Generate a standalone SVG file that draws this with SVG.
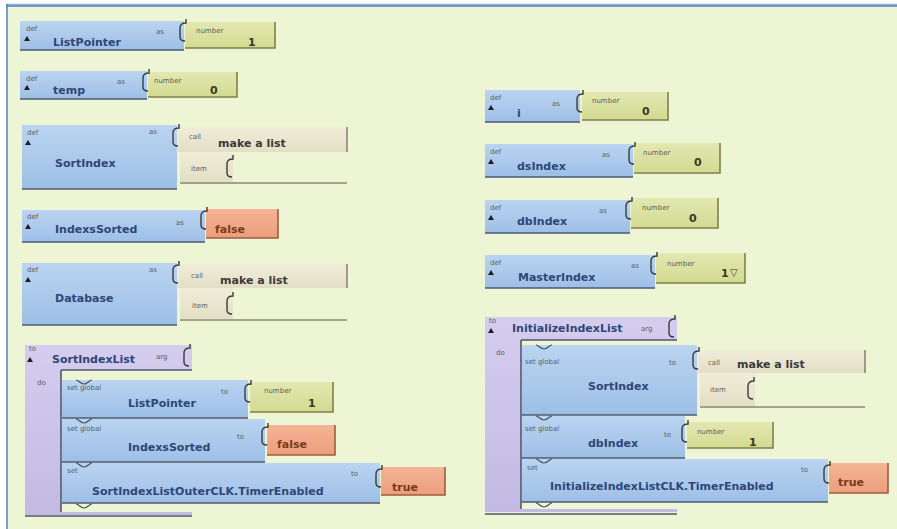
<svg xmlns="http://www.w3.org/2000/svg" width="897" height="529" viewBox="0 0 897 529">
  <defs>
    <linearGradient id="gBlue" x1="0" y1="0" x2="0" y2="1">
      <stop offset="0" stop-color="#BAD4F1"/>
      <stop offset="1" stop-color="#9DBFE6"/>
    </linearGradient>
    <linearGradient id="gNum" x1="0" y1="0" x2="0" y2="1">
      <stop offset="0" stop-color="#E2E8B0"/>
      <stop offset="1" stop-color="#D3DA92"/>
    </linearGradient>
    <linearGradient id="gBool" x1="0" y1="0" x2="0" y2="1">
      <stop offset="0" stop-color="#F4B496"/>
      <stop offset="1" stop-color="#EC9E7B"/>
    </linearGradient>
    <linearGradient id="gList" x1="0" y1="0" x2="0" y2="1">
      <stop offset="0" stop-color="#F0ECD8"/>
      <stop offset="1" stop-color="#E3DFC6"/>
    </linearGradient>
    <linearGradient id="gProc" x1="0" y1="0" x2="0" y2="1">
      <stop offset="0" stop-color="#D4CDEE"/>
      <stop offset="1" stop-color="#C3BAE3"/>
    </linearGradient>
    <!-- value socket bracket -->
    <path id="sock" d="M6,-3 V1 Q0,1 0,6 V15 Q0,19 5,19" fill="none" stroke="#3B3B3B" stroke-width="1.4"/>
    <!-- statement connector notch -->
    <path id="tab" d="M0,0 C3,0 4,4 8,4 C12,4 13,0 16,0" fill="none" stroke="#4A5162" stroke-width="1.2"/>
  </defs>
  <style>
    .blue{fill:url(#gBlue)}
    .num{fill:url(#gNum)}
    .bool{fill:url(#gBool)}
    .list{fill:url(#gList)}
    .proc{fill:url(#gProc)}
    .eBlue{fill:none;stroke:#4D5A70;stroke-width:1.6}
    .eNum{fill:none;stroke:#7F8048;stroke-width:1.6}
    .eBool{fill:none;stroke:#9C5E40;stroke-width:1.6}
    .eList{fill:none;stroke:#8B8672;stroke-width:1.6}
    .eProc{fill:none;stroke:#55566A;stroke-width:1.6}
    .tri{fill:#1E1E1E}
    text{font-family:"DejaVu Sans",Verdana,sans-serif}
    .nm{font-size:11px;font-weight:bold;fill:#2F4676}
    .sm{font-size:7px;fill:#5E5E5E}
    .v{font-size:11px;font-weight:bold;fill:#3A3A22}
    .b{font-size:11px;font-weight:bold;fill:#7A3A1C}
    .ml{font-size:11px;font-weight:bold;fill:#3A3A3A}
  </style>

  <!-- workspace frame -->
  <rect x="0" y="0" width="897" height="529" fill="#FFFFFF"/>
  <rect x="7" y="5" width="890" height="524" fill="#EEF5D5"/>
  <line x1="6" y1="4.5" x2="897" y2="4.5" stroke="#8FB0DA" stroke-width="1.5"/>
  <line x1="6" y1="6" x2="897" y2="6" stroke="#4A7EC0" stroke-width="1.6"/>
  <line x1="7" y1="4" x2="7" y2="529" stroke="#5A8AC6" stroke-width="1.6"/>

  <!-- def ListPointer as number 1 -->
  <g id="def-ListPointer">
    <rect class="blue" x="20" y="21" width="164" height="29"/>
    <path class="eBlue" d="M20,50 H184"/>
    <rect class="num" x="185" y="22" width="90" height="26"/>
    <path class="eNum" d="M275,22 V48 H185"/>
    <use href="#sock" x="180" y="22"/>
    <text class="sm" x="26" y="31">def</text>
    <polygon class="tri" points="24,41 27,36 30,41"/>
    <text class="nm" x="53" y="46">ListPointer</text>
    <text class="sm" x="156" y="34">as</text>
    <text class="sm" x="196" y="33">number</text>
    <text class="v" x="248" y="46">1</text>
  </g>

  <!-- def temp as number 0 -->
  <g id="def-temp">
    <rect class="blue" x="20" y="71" width="127" height="28"/>
    <path class="eBlue" d="M20,99 H147"/>
    <rect class="num" x="148" y="72" width="89" height="25"/>
    <path class="eNum" d="M237,72 V97 H148"/>
    <use href="#sock" x="143" y="72"/>
    <text class="sm" x="26" y="81">def</text>
    <polygon class="tri" points="24,90 27,85 30,90"/>
    <text class="nm" x="53" y="94">temp</text>
    <text class="sm" x="117" y="84">as</text>
    <text class="sm" x="154" y="83">number</text>
    <text class="v" x="210" y="94">0</text>
  </g>

  <!-- def SortIndex as make a list -->
  <g id="def-SortIndex">
    <rect class="blue" x="22" y="125" width="155" height="64"/>
    <path class="eBlue" d="M22,189 H177"/>
    <rect class="list" x="178" y="127" width="169" height="25"/>
    <rect class="list" x="180" y="152" width="53" height="30"/>
    <path class="eList" d="M347,127 V152"/>
    <path class="eList" d="M180,183 H347"/>
    <use href="#sock" x="173" y="127"/>
    <use href="#sock" x="227" y="158"/>
    <text class="sm" x="27" y="135">def</text>
    <polygon class="tri" points="25,145 28,140 31,145"/>
    <text class="nm" x="55" y="167">SortIndex</text>
    <text class="sm" x="149" y="134">as</text>
    <text class="sm" x="189" y="139">call</text>
    <text class="ml" x="218" y="147">make a list</text>
    <text class="sm" x="191" y="171">item</text>
  </g>

  <!-- def IndexsSorted as false -->
  <g id="def-IndexsSorted">
    <rect class="blue" x="22" y="210" width="183" height="32"/>
    <path class="eBlue" d="M22,242 H205"/>
    <rect class="bool" x="206" y="209" width="72" height="29"/>
    <path class="eBool" d="M278,209 V238 H206"/>
    <use href="#sock" x="201" y="210"/>
    <text class="sm" x="27" y="219">def</text>
    <polygon class="tri" points="25,229 28,224 31,229"/>
    <text class="nm" x="55" y="233">IndexsSorted</text>
    <text class="sm" x="176" y="225">as</text>
    <text class="b" x="215" y="233">false</text>
  </g>

  <!-- def Database as make a list -->
  <g id="def-Database">
    <rect class="blue" x="22" y="263" width="155" height="62"/>
    <path class="eBlue" d="M22,325 H177"/>
    <rect class="list" x="178" y="264" width="169" height="24"/>
    <rect class="list" x="180" y="288" width="53" height="31"/>
    <path class="eList" d="M347,264 V288"/>
    <path class="eList" d="M180,320 H347"/>
    <use href="#sock" x="173" y="264"/>
    <use href="#sock" x="227" y="295"/>
    <text class="sm" x="27" y="272">def</text>
    <polygon class="tri" points="25,282 28,277 31,282"/>
    <text class="nm" x="55" y="302">Database</text>
    <text class="sm" x="149" y="272">as</text>
    <text class="sm" x="191" y="278">call</text>
    <text class="ml" x="220" y="284">make a list</text>
    <text class="sm" x="192" y="308">item</text>
  </g>

  <!-- procedure SortIndexList -->
  <g id="proc-SortIndexList">
    <path class="proc" d="M25,345 H192 V370 H61 V512 H192 V515 H25 Z"/>
    <path class="eProc" d="M61,370 H192 M61,370 V512 M25,516 H192"/>
    <use href="#sock" x="184" y="347"/>
    <text class="sm" x="29" y="351">to</text>
    <polygon class="tri" points="27,362 30,357 33,362"/>
    <text class="nm" x="52" y="363">SortIndexList</text>
    <text class="sm" x="156" y="359">arg</text>
    <text class="sm" x="37" y="385">do</text>
  </g>

  <g id="set-ListPointer">
    <rect class="blue" x="62" y="380" width="186" height="38"/>
    <path class="eBlue" d="M62,418 H248"/>
    <rect class="num" x="250" y="382" width="83" height="30"/>
    <path class="eNum" d="M333,382 V412 H250"/>
    <use href="#sock" x="245" y="383"/>
    <use href="#tab" x="76" y="380"/>
    <text class="sm" x="67" y="390">set global</text>
    <text class="nm" x="128" y="407">ListPointer</text>
    <text class="sm" x="221" y="394">to</text>
    <text class="sm" x="264" y="393">number</text>
    <text class="v" x="308" y="407">1</text>
  </g>

  <g id="set-IndexsSorted">
    <rect class="blue" x="62" y="419" width="203" height="43"/>
    <path class="eBlue" d="M62,462 H265"/>
    <rect class="bool" x="267" y="425" width="68" height="30"/>
    <path class="eBool" d="M335,425 V455 H267"/>
    <use href="#sock" x="262" y="426"/>
    <use href="#tab" x="76" y="419"/>
    <text class="sm" x="67" y="431">set global</text>
    <text class="nm" x="128" y="451">IndexsSorted</text>
    <text class="sm" x="237" y="439">to</text>
    <text class="b" x="277" y="448">false</text>
  </g>

  <g id="set-OuterTimer">
    <rect class="blue" x="62" y="463" width="318" height="40"/>
    <path class="eBlue" d="M62,503 H380"/>
    <rect class="bool" x="381" y="467" width="64" height="28"/>
    <path class="eBool" d="M445,467 V495 H381"/>
    <use href="#sock" x="376" y="468"/>
    <use href="#tab" x="76" y="463"/>
    <use href="#tab" x="76" y="504"/>
    <text class="sm" x="67" y="473">set</text>
    <text class="nm" x="92" y="495">SortIndexListOuterCLK.TimerEnabled</text>
    <text class="sm" x="351" y="476">to</text>
    <text class="b" x="392" y="491">true</text>
  </g>

  <!-- def i as number 0 -->
  <g id="def-i">
    <rect class="blue" x="485" y="90" width="95" height="32"/>
    <path class="eBlue" d="M485,122 H580"/>
    <rect class="num" x="582" y="92" width="86" height="28"/>
    <path class="eNum" d="M668,92 V120 H582"/>
    <use href="#sock" x="577" y="93"/>
    <text class="sm" x="490" y="100">def</text>
    <polygon class="tri" points="488,110 491,105 494,110"/>
    <text class="nm" x="517" y="117">i</text>
    <text class="sm" x="552" y="106">as</text>
    <text class="sm" x="592" y="103">number</text>
    <text class="v" x="642" y="115">0</text>
  </g>

  <!-- def dsIndex as number 0 -->
  <g id="def-dsIndex">
    <rect class="blue" x="485" y="144" width="148" height="33"/>
    <path class="eBlue" d="M485,177 H633"/>
    <rect class="num" x="634" y="143" width="86" height="30"/>
    <path class="eNum" d="M720,143 V173 H634"/>
    <use href="#sock" x="629" y="145"/>
    <text class="sm" x="490" y="154">def</text>
    <polygon class="tri" points="488,164 491,159 494,164"/>
    <text class="nm" x="517" y="170">dsIndex</text>
    <text class="sm" x="602" y="157">as</text>
    <text class="sm" x="643" y="155">number</text>
    <text class="v" x="694" y="166">0</text>
  </g>

  <!-- def dbIndex as number 0 -->
  <g id="def-dbIndex">
    <rect class="blue" x="485" y="200" width="145" height="33"/>
    <path class="eBlue" d="M485,233 H630"/>
    <rect class="num" x="631" y="198" width="87" height="30"/>
    <path class="eNum" d="M718,198 V228 H631"/>
    <use href="#sock" x="626" y="200"/>
    <text class="sm" x="490" y="210">def</text>
    <polygon class="tri" points="488,220 491,215 494,220"/>
    <text class="nm" x="517" y="225">dbIndex</text>
    <text class="sm" x="599" y="213">as</text>
    <text class="sm" x="642" y="210">number</text>
    <text class="v" x="689" y="222">0</text>
  </g>

  <!-- def MasterIndex as number 1 -->
  <g id="def-MasterIndex">
    <rect class="blue" x="485" y="255" width="170" height="33"/>
    <path class="eBlue" d="M485,288 H655"/>
    <rect class="num" x="656" y="253" width="89" height="30"/>
    <path class="eNum" d="M745,253 V283 H656"/>
    <use href="#sock" x="651" y="255"/>
    <text class="sm" x="490" y="265">def</text>
    <polygon class="tri" points="488,275 491,270 494,275"/>
    <text class="nm" x="518" y="281">MasterIndex</text>
    <text class="sm" x="631" y="268">as</text>
    <text class="sm" x="667" y="266">number</text>
    <text class="v" x="721" y="277">1</text>
    <text class="v" x="730" y="276" style="font-size:10px">▽</text>
  </g>

  <!-- procedure InitializeIndexList -->
  <g id="proc-InitializeIndexList">
    <path class="proc" d="M485,317 H677 V340 H521 V509 H677 V512 H485 Z"/>
    <path class="eProc" d="M521,340 H677 M521,340 V509 M485,514 H677"/>
    <use href="#sock" x="669" y="318"/>
    <text class="sm" x="489" y="323">to</text>
    <polygon class="tri" points="488,333 491,328 494,333"/>
    <text class="nm" x="512" y="332">InitializeIndexList</text>
    <text class="sm" x="641" y="331">arg</text>
    <text class="sm" x="496" y="355">do</text>
  </g>

  <g id="set-SortIndex">
    <rect class="blue" x="522" y="345" width="175" height="70"/>
    <path class="eBlue" d="M522,415 H697"/>
    <rect class="list" x="698" y="350" width="167" height="23"/>
    <rect class="list" x="700" y="373" width="55" height="33"/>
    <path class="eList" d="M865,350 V373"/>
    <path class="eList" d="M700,407 H865"/>
    <use href="#sock" x="693" y="350"/>
    <use href="#sock" x="748" y="380"/>
    <use href="#tab" x="536" y="345"/>
    <text class="sm" x="525" y="364">set global</text>
    <text class="nm" x="588" y="390">SortIndex</text>
    <text class="sm" x="669" y="365">to</text>
    <text class="sm" x="708" y="365">call</text>
    <text class="ml" x="737" y="368">make a list</text>
    <text class="sm" x="710" y="392">item</text>
  </g>

  <g id="set-dbIndex">
    <rect class="blue" x="522" y="416" width="163" height="42"/>
    <path class="eBlue" d="M522,458 H685"/>
    <rect class="num" x="687" y="422" width="86" height="26"/>
    <path class="eNum" d="M773,422 V448 H687"/>
    <use href="#sock" x="682" y="423"/>
    <use href="#tab" x="536" y="416"/>
    <text class="sm" x="525" y="431">set global</text>
    <text class="nm" x="588" y="447">dbIndex</text>
    <text class="sm" x="664" y="437">to</text>
    <text class="sm" x="697" y="434">number</text>
    <text class="v" x="749" y="446">1</text>
  </g>

  <g id="set-InitTimer">
    <rect class="blue" x="522" y="459" width="306" height="43"/>
    <path class="eBlue" d="M522,502 H828"/>
    <rect class="bool" x="829" y="463" width="59" height="30"/>
    <path class="eBool" d="M888,463 V493 H829"/>
    <use href="#sock" x="824" y="464"/>
    <use href="#tab" x="536" y="459"/>
    <use href="#tab" x="536" y="503"/>
    <text class="sm" x="527" y="470">set</text>
    <text class="nm" x="550" y="490">InitializeIndexListCLK.TimerEnabled</text>
    <text class="sm" x="801" y="472">to</text>
    <text class="b" x="838" y="486">true</text>
  </g>
</svg>
